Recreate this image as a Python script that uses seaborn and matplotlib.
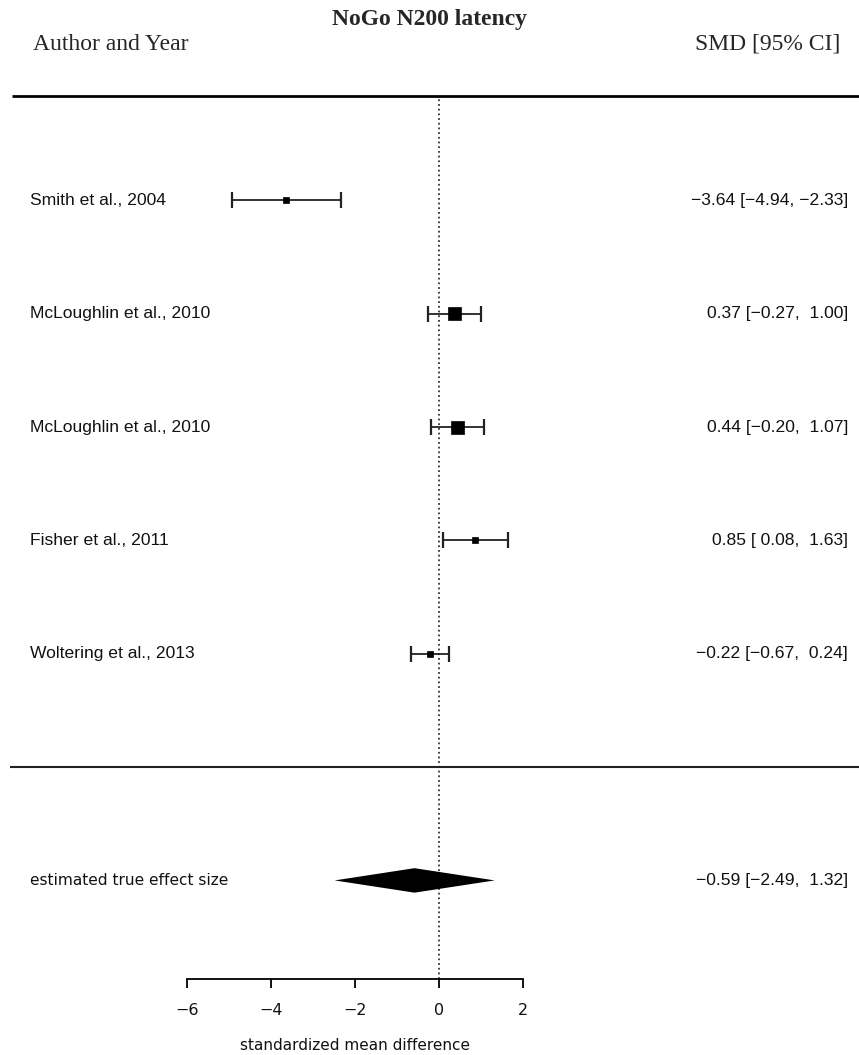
import matplotlib
matplotlib.use("Agg")
import matplotlib.pyplot as plt
import matplotlib.transforms as mtransforms
import numpy as np
import pandas as pd
import seaborn as sns

# Study-level standardized mean differences with 95% confidence limits
studies = ["Smith et al., 2004", "McLoughlin et al., 2010", "McLoughlin et al., 2010",
           "Fisher et al., 2011", "Woltering et al., 2013"]
smd = [-3.64, 0.37, 0.44, 0.85, -0.22]
ci_low = [-4.94, -0.27, -0.20, 0.08, -0.67]
ci_high = [-2.33, 1.00, 1.07, 1.63, 0.24]

# Pooled random-effects estimate
pooled_label = "estimated true effect size"
pooled_est = -0.59
pooled_low = -2.49
pooled_high = 1.32

x_ticks = [-6, -4, -2, 0, 2]

# Box side length (pixels) used for each study square
box_px = [6, 13, 13, 6, 6]

sns.set_theme(style="white")
plt.rcParams["font.family"] = ["Liberation Sans", "DejaVu Sans"]
plt.rcParams["axes.unicode_minus"] = True

DPI = 100
fig = plt.figure(figsize=(8.59, 10.55), dpi=DPI)
ax = fig.add_axes([0.2180, 0.0720, 0.3911, 0.8370])
ax.set_facecolor("none")

rows = list(range(len(studies), 0, -1))
pooled_row = -1
y_top, y_bottom = 5.92, -1.87
ax.set_xlim(-6, 2)
ax.set_ylim(y_bottom, y_top)

df = pd.DataFrame({"study": studies, "smd": smd, "lo": ci_low, "hi": ci_high,
                   "row": rows, "box": box_px})

# Reference line at zero
ax.axvline(0, color="#333333", lw=1.3, ls=(0, (1, 1.6)), zorder=1)

# Confidence intervals with end caps
err = np.array([df["smd"] - df["lo"], df["hi"] - df["smd"]])
ax.errorbar(df["smd"], df["row"], xerr=err, fmt="none", ecolor="#222222",
            elinewidth=1.3, capsize=5.8, capthick=1.6, zorder=2)

# Study boxes
pt_per_px = 72.0 / DPI
sizes = {b: (b * pt_per_px) ** 2 for b in sorted(set(box_px))}
sns.scatterplot(data=df, x="smd", y="row", size="box", sizes=sizes, marker="s",
                color="black", edgecolor="black", linewidth=0.5, legend=False,
                ax=ax, zorder=3)

# Pooled estimate diamond
h = 0.108
ax.fill([pooled_low, pooled_est, pooled_high, pooled_est],
        [pooled_row, pooled_row + h, pooled_row, pooled_row - h],
        color="black", lw=0, zorder=3)

# Axis styling: only a bottom axis spanning the tick range
for side in ["top", "left", "right"]:
    ax.spines[side].set_visible(False)
ax.spines["bottom"].set_bounds(x_ticks[0], x_ticks[-1])
ax.spines["bottom"].set_color("black")
ax.spines["bottom"].set_linewidth(1.3)
ax.set_yticks([])
ax.set_ylabel("")
ax.set_xticks(x_ticks)
ax.set_xticklabels([f"{t:d}".replace("-", "\u2212") for t in x_ticks],
                   fontfamily="DejaVu Sans", fontsize=11.5)
ax.tick_params(axis="x", direction="out", length=6.5, width=1.3, color="black",
               bottom=True, pad=11, labelcolor="#111111")
ax.set_xlabel("standardized mean difference", fontfamily="DejaVu Sans",
              fontsize=11, labelpad=14, color="#111111")
ax.grid(False)

# Horizontal rules spanning the full width
blend = mtransforms.blended_transform_factory(fig.transFigure, ax.transData)
ax.plot([0.014, 1.0], [y_top, y_top], transform=blend, color="black", lw=2.0,
        clip_on=False, solid_capstyle="butt")
ax.plot([0.012, 1.0], [0, 0], transform=blend, color="#222222", lw=1.5,
        clip_on=False, solid_capstyle="butt")


def fmt(v):
    return f"{v:5.2f}".replace("-", "\u2212")


def ci_text(est, lo, hi):
    return f"{fmt(est).strip()} [{fmt(lo)}, {fmt(hi)}]"


label_x = 30 / 859
value_x = 848 / 859
txt_size = 12.6
for _, r in df.iterrows():
    ax.text(label_x, r["row"], r["study"], transform=blend, ha="left", va="center",
            fontsize=txt_size, color="#111111")
    ax.text(value_x, r["row"], ci_text(r["smd"], r["lo"], r["hi"]), transform=blend,
            ha="right", va="center", fontsize=txt_size, color="#111111")

ax.text(label_x, pooled_row, pooled_label, transform=blend, ha="left", va="center",
        fontfamily="DejaVu Sans", fontsize=11.1, color="#111111")
ax.text(value_x, pooled_row, ci_text(pooled_est, pooled_low, pooled_high),
        transform=blend, ha="right", va="center", fontsize=txt_size, color="#111111")

# Title and column headers
fig.text(0.5, 1 - 20 / 1055, "NoGo N200 latency", ha="center", va="center",
         fontfamily="Liberation Serif", fontweight="bold", fontsize=17)
fig.text(33 / 859, 1 - 44 / 1055, "Author and Year", ha="left", va="center",
         fontfamily="Liberation Serif", fontsize=17)
fig.text(840 / 859, 1 - 44 / 1055, "SMD [95% CI]", ha="right", va="center",
         fontfamily="Liberation Serif", fontsize=17)

fig.savefig("out.png", dpi=DPI)
